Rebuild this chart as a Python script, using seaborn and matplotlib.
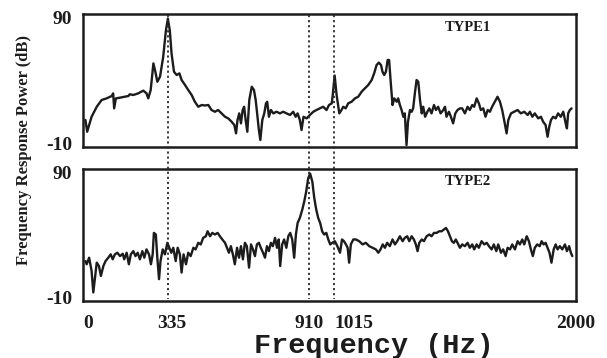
import matplotlib
matplotlib.use("Agg")
import matplotlib.pyplot as plt
import matplotlib.transforms as mtransforms
from matplotlib.lines import Line2D
import seaborn as sns

# ---- frequency response, TYPE1 ----
freq_type1 = [0, 7, 25, 46, 66, 86, 107, 113, 117, 124, 147, 175, 181, 195, 215, 236, 249, 256,
              266, 277, 285, 293, 304, 317, 328, 336, 344, 351, 361, 372, 383, 392, 406, 419,
              433, 446, 460, 474, 487, 501, 514, 528, 541, 555, 569, 582, 596, 607, 614, 620,
              627, 634, 641, 647, 653, 660, 668, 678, 687, 694, 700, 707, 713, 721, 729, 736,
              741, 748, 756, 766, 779, 793, 806, 820, 834, 847, 857, 865, 874, 881, 889, 902,
              915, 929, 942, 956, 969, 983, 993, 1004, 1008, 1016, 1024, 1035, 1044, 1051,
              1061, 1071, 1085, 1099, 1112, 1126, 1139, 1153, 1167, 1177, 1187, 1196, 1205,
              1211, 1218, 1225, 1232, 1238, 1245, 1252, 1259, 1269, 1275, 1282, 1289, 1296,
              1302, 1309, 1315, 1323, 1330, 1336, 1343, 1350, 1357, 1364, 1371, 1377, 1385,
              1394, 1402, 1411, 1421, 1429, 1438, 1448, 1459, 1466, 1472, 1482, 1490, 1499,
              1508, 1517, 1527, 1536, 1547, 1558, 1567, 1577, 1585, 1595, 1604, 1612, 1622,
              1631, 1640, 1649, 1658, 1669, 1680, 1690, 1699, 1707, 1717, 1724, 1735, 1748,
              1762, 1775, 1789, 1803, 1812, 1822, 1832, 1846, 1857, 1866, 1876, 1884, 1891,
              1898, 1907, 1917, 1927, 1938, 1948, 1958, 1963, 1968, 1975, 1982]
power_type1 = [8.4, -1, 11, 19, 24.4, 25.7, 27.6, 29.7, 17.7, 25.7, 26.5, 27.6, 29, 28.4, 29.7,
               31.9, 29.7, 25.7, 32.4, 53.7, 47, 39, 43, 59, 80, 89.5, 80, 61.7, 47, 44.4, 45.7,
               40.4, 36.4, 32.4, 28.4, 23, 19, 20.4, 20, 20.4, 16.4, 15, 16.4, 13.7, 11, 9.7, 7,
               4.4, -2.3, 8.4, 13.7, 5.7, 16.4, 19, 8.4, -1, 24.4, 35, 32.4, 24.4, 13.7, 0.4,
               -7.6, 8.4, 13.7, 21.7, 23, 11, 16.4, 13.7, 15, 13.7, 15, 13.7, 12.4, 15, 11,
               13.7, 8.4, 0.4, 11, 9.7, 12.4, 15, 16.4, 17.7, 19, 16.4, 20.4, 21.7, 28, 44,
               28.4, 13.7, 16.4, 19, 17.7, 21.7, 23, 25.7, 27, 31, 33.7, 36.4, 40.4, 45.7, 52.4,
               54.3, 52.4, 47, 44.4, 47, 56.4, 56.4, 37.7, 20.4, 25.7, 23, 25.7, 20.4, 16.4, 11,
               13.7, -11.6, 7, 16.4, 15, 17.7, 29.7, 40.4, 39, 24.4, 13.7, 19, 11, 15, 17.7,
               13.7, 20.4, 16.4, 19, 13.7, 16.4, 19, 11, 15, 11, 5.7, 13.7, 16.4, 17.7, 17.7,
               13.7, 19, 16.4, 20.4, 19, 25.7, 21.7, 16.4, 17.7, 11, 16.4, 15, 19, 23, 27, 23,
               16.4, 8.4, -2.3, 8.4, 13.7, 15, 16.4, 13.7, 15, 12.4, 15, 11, 13.7, 9.7, 11, 7,
               4.4, -5, 3, 8.4, 11, 9.7, 13.7, 11, 15, 5.7, 1.7, 13.7, 16.4, 17.7]

# ---- frequency response, TYPE2 ----
freq_type2 = [0, 5, 15, 25, 32, 39, 46, 55, 63, 73, 82, 93, 103, 111, 120, 130, 141, 152, 158,
              168, 177, 185, 195, 204, 213, 222, 232, 240, 249, 259, 267, 274, 279, 287, 293,
              300, 306, 315, 324, 334, 342, 350, 358, 368, 376, 385, 392, 400, 410, 419, 429,
              440, 449, 460, 470, 480, 491, 498, 508, 517, 528, 539, 548, 558, 569, 577, 585,
              593, 601, 609, 618, 626, 634, 642, 650, 658, 667, 675, 683, 691, 699, 707, 715,
              724, 732, 740, 748, 756, 764, 773, 781, 788, 794, 802, 810, 819, 827, 835, 843,
              851, 858, 865, 874, 884, 892, 900, 908, 916, 925, 933, 941, 949, 957, 965, 973,
              982, 990, 998, 1006, 1017, 1027, 1038, 1046, 1054, 1062, 1069, 1075, 1082, 1092,
              1103, 1116, 1130, 1143, 1157, 1171, 1184, 1194, 1203, 1212, 1221, 1230, 1241,
              1252, 1262, 1271, 1282, 1293, 1302, 1312, 1320, 1330, 1339, 1347, 1354, 1361,
              1371, 1380, 1391, 1402, 1411, 1421, 1432, 1442, 1452, 1461, 1470, 1478, 1486,
              1494, 1502, 1510, 1517, 1527, 1536, 1547, 1558, 1567, 1577, 1585, 1595, 1604,
              1615, 1626, 1636, 1645, 1656, 1665, 1675, 1683, 1694, 1703, 1713, 1721, 1731,
              1740, 1751, 1762, 1771, 1781, 1789, 1799, 1808, 1816, 1824, 1832, 1842, 1852,
              1860, 1868, 1876, 1884, 1892, 1900, 1909, 1917, 1925, 1934, 1944, 1955, 1963,
              1972, 1979, 1985]
power_type2 = [19, 16.4, 21.7, 11, -6.3, 5.7, 17.7, 15, 7, 15, 19, 21.7, 24.4, 20.4, 24.4, 25.7,
               23, 24.9, 20.4, 25.7, 16.4, 24.4, 27, 23, 25.7, 20.4, 27, 21.7, 28.4, 24.4, 16.4,
               24.4, 41.7, 40.4, 21.7, 4.4, 19, 28.4, 24.4, 33.7, 29.7, 25.7, 29.7, 19, 29.7,
               24.4, 9.7, 24.4, 16.4, 25.7, 23, 29.7, 28.4, 33.7, 32.4, 37.7, 39, 43, 39, 41.7,
               40.4, 41.7, 39, 36.4, 33.7, 29.7, 25.7, 31, 24.4, 16.4, 29.7, 21.7, 31, 20.4,
               33.7, 31, 13.7, 32.4, 28.4, 23, 32.4, 33.7, 29.7, 25.7, 21.7, 31, 27, 33.7, 31,
               37.7, 29.7, 36.4, 15, 32.4, 36.4, 29.7, 39, 41.7, 36.4, 21.7, 40.4, 49.7, 53.7,
               60.4, 67, 75, 85.7, 89.5, 83, 69.7, 60.4, 53.7, 49.7, 43, 40.4, 41.7, 36.4, 32.4,
               33.7, 35, 31, 25.7, 36.4, 35, 32.4, 29.7, 17.7, 32.4, 36.4, 36.4, 35, 32.4, 33.7,
               31, 29.7, 28.4, 25.7, 28.4, 32.4, 29.7, 33.7, 31, 36.4, 32.4, 35, 39, 35, 37.7,
               39, 35, 39, 36.4, 32.4, 27, 33.7, 36.4, 35, 39, 40.4, 39, 41.7, 41.7, 43, 43,
               44.4, 45.7, 43, 39, 35, 33.7, 36.4, 33.7, 29.7, 32.4, 31, 33.7, 29.7, 32.4, 28.4,
               32.4, 29.7, 35, 32.4, 33.7, 31, 28.4, 32.4, 27, 32.4, 25.7, 28.4, 23, 29.7, 28.4,
               32.4, 28.4, 35, 32.4, 36.4, 32.4, 39, 35, 28.4, 23, 29.7, 32.4, 31, 35, 32.4,
               33.7, 29.7, 25.7, 17.7, 28.4, 32.4, 28.4, 31, 28.4, 32.4, 27, 31, 25.7, 23]

# ---- axis annotations ----
marked_freqs = [335, 910, 1015]
x_ticks = [0, 335, 910, 1015, 2000]
x_tick_labels = ["0", "335", "910", "1015", "2000"]
y_ticks = [-10, 90]
y_tick_labels = ["-10", "90"]
panel_names = ["TYPE1", "TYPE2"]

sns.set_style("white")
plt.rcParams["font.family"] = ["Liberation Serif", "DejaVu Serif"]

INK = "#1c1c1c"
W, H = 607, 358
fig = plt.figure(figsize=(W / 100, H / 100), dpi=100)
fig.patch.set_facecolor("white")

ax1 = fig.add_axes([83 / W, 1 - 147 / H, 493 / W, 133 / H])
ax2 = fig.add_axes([83 / W, 1 - 301 / H, 493 / W, 132 / H])

series = [(freq_type1, power_type1), (freq_type2, power_type2)]
for ax, (fx, py), name, ty in zip([ax1, ax2], series, panel_names, [0.895, 0.905]):
    sns.lineplot(x=fx, y=py, ax=ax, color=INK, linewidth=1.7, estimator=None, sort=False)
    ax.set_xlim(-10, 2000)
    ax.set_ylim(-13.2, 93.2)
    ax.set_yticks(y_ticks)
    ax.set_yticklabels(y_tick_labels, fontsize=14, fontweight="bold", color=INK)
    ax.tick_params(axis="both", length=0)
    ax.tick_params(axis="y", pad=8)
    for sp in ax.spines.values():
        sp.set_visible(True)
        sp.set_linewidth(1.8)
        sp.set_color(INK)
    ax.set_xlabel("")
    ax.set_ylabel("")
    ax.text(0.781, ty, name, transform=ax.transAxes, ha="center", va="center",
            fontsize=10.5, fontweight="bold", color=INK)

ax1.set_xticks([])
ax2.set_xticks(x_ticks)
ax2.set_xticklabels(x_tick_labels, fontsize=14, fontweight="bold", color=INK)
ax2.tick_params(axis="x", pad=10)
# nudge crowded labels apart (in points)
label_shift = [2, 3, 0, 14, 0]
for lbl, dx in zip(ax2.get_xticklabels(), label_shift):
    lbl.set_transform(lbl.get_transform() + mtransforms.ScaledTranslation(dx / 72, 0, fig.dpi_scale_trans))

# dotted markers running through both panels
blend = mtransforms.blended_transform_factory(ax2.transData, fig.transFigure)
for f in marked_freqs:
    fig.add_artist(Line2D([f, f], [1 - 15 / H, 1 - 299 / H], transform=blend,
                          color="#2a2a2a", linewidth=1.3, linestyle=(0, (1.2, 1.6))))

fig.text(24 / W, 1 - 150 / H, "Frequency Response Power (dB)", rotation=90,
         ha="center", va="center", fontsize=12, fontweight="bold", color=INK)
fig.text(374 / W, 1 - 346 / H, "Frequency (Hz)", ha="center", va="center",
         fontsize=20.5, fontweight="bold", color=INK, family=["Liberation Mono", "DejaVu Sans Mono"])

fig.savefig("out.png", dpi=100, facecolor="white")
